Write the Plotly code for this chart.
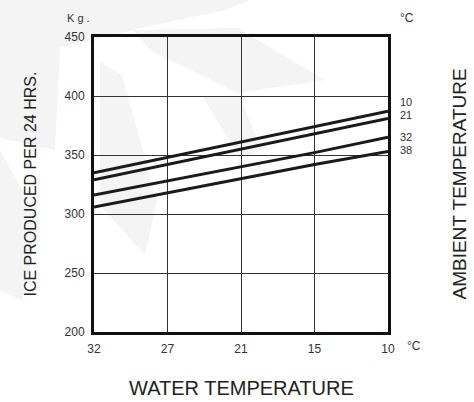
import plotly.graph_objects as go

water_temp = ["32", "27", "21", "15", "10"]
ambient_labels = ["10", "21", "32", "38"]
ice_10 = [335, 348, 361, 374, 387]
ice_21 = [329, 342, 355, 368, 381]
ice_32 = [316, 328, 340, 352, 365]
ice_38 = [306, 318, 330, 342, 353]
series = [ice_10, ice_21, ice_32, ice_38]
label_shift = [9, 3, 0, 1]
y_ticks = [200, 250, 300, 350, 400, 450]

FONT = "Liberation Sans, Arial, sans-serif"
L, R, T, B = 94, 388, 37, 332
fig = go.Figure()


def px_path(pts):
    s = []
    for i, (x, y) in enumerate(pts):
        xp = (x - L) / (R - L)
        yp = (B - y) / (B - T)
        s.append(("M " if i == 0 else "L ") + f"{xp:.4f} {yp:.4f}")
    return " ".join(s) + " Z"


wm = "#f4f4f4"
watermark = [
    [(0, 0), (250, 0), (225, 10), (150, 26), (60, 48), (55, 150), (0, 138)],
    [(133, 30), (237, 28), (325, 80), (237, 93), (150, 50)],
    [(100, 62), (122, 75), (157, 201), (145, 255), (100, 205)],
    [(203, 97), (240, 97), (262, 150), (240, 158)],
    [(0, 150), (40, 222), (22, 300), (0, 290)],
]
for poly in watermark:
    fig.add_shape(type="path", xref="paper", yref="paper", path=px_path(poly),
                  fillcolor=wm, line_width=0, layer="below")

for vals in series:
    fig.add_trace(go.Scatter(x=water_temp, y=vals, mode="lines",
                             line=dict(color="#1a1a1a", width=3), showlegend=False, hoverinfo="skip"))

for lab, vals, sh in zip(ambient_labels, series, label_shift):
    fig.add_annotation(x=1, xref="paper", y=vals[-1], yref="y", text=lab, showarrow=False,
                       xanchor="left", yanchor="middle", xshift=10, yshift=sh,
                       font=dict(size=11, color="#333", family=FONT))

fig.add_annotation(x=1, xref="paper", y=1, yref="paper", text="°C", showarrow=False,
                   xanchor="left", yanchor="middle", xshift=10, yshift=19,
                   font=dict(size=12, color="#333", family=FONT))
fig.add_annotation(x=0, xref="paper", y=1, yref="paper", text="K g .", showarrow=False,
                   xanchor="left", yanchor="middle", xshift=-29, yshift=19,
                   font=dict(size=11, color="#333", family=FONT))
fig.add_annotation(x=1, xref="paper", y=0, yref="paper", text="°C", showarrow=False,
                   xanchor="left", yanchor="middle", xshift=17, yshift=-14,
                   font=dict(size=12, color="#333", family=FONT))
fig.add_annotation(x=0.5, xref="paper", y=0, yref="paper", text="WATER TEMPERATURE", showarrow=False,
                   xanchor="center", yanchor="middle", yshift=-56,
                   font=dict(size=20, color="#222", family=FONT))
fig.add_annotation(x=0, xref="paper", y=0.5, yref="paper", text="ICE PRODUCED PER 24 HRS.", showarrow=False,
                   textangle=-90, xanchor="center", yanchor="middle", xshift=-64,
                   font=dict(size=16, color="#222", family=FONT))
fig.add_annotation(x=1, xref="paper", y=0.5, yref="paper", text="AMBIENT TEMPERATURE", showarrow=False,
                   textangle=-90, xanchor="center", yanchor="middle", xshift=71,
                   font=dict(size=19, color="#222", family=FONT))

fig.update_xaxes(type="category", range=[0, 4], showgrid=True, gridcolor="#333", gridwidth=1,
                 showline=True, linecolor="#111", linewidth=3, mirror=True, ticks="",
                 ticklabelstandoff=4,
                 tickfont=dict(size=12, color="#333", family=FONT), zeroline=False)
fig.update_yaxes(range=[200, 450], tickvals=y_ticks, showgrid=True, gridcolor="#333", gridwidth=1,
                 showline=True, linecolor="#111", linewidth=3, mirror=True, ticks="",
                 ticklabelstandoff=4,
                 tickfont=dict(size=12, color="#333", family=FONT), zeroline=False)

fig.update_layout(width=474, height=402, margin=dict(l=L, r=474 - R, t=T, b=402 - B),
                  plot_bgcolor="rgba(0,0,0,0)", paper_bgcolor="white", font=dict(family=FONT))
fig.write_html("out.html", config={"displayModeBar": False},
               post_script="document.body.style.margin='0';")
